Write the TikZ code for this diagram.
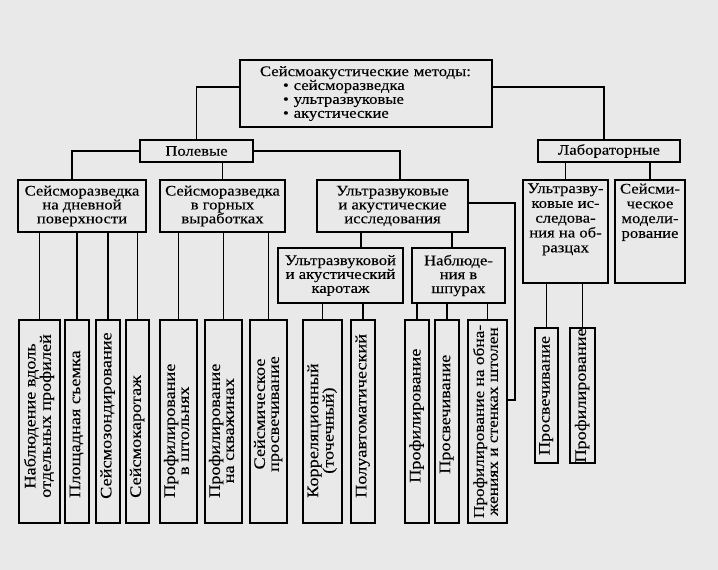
\documentclass[tikz,border=0pt]{standalone}
\usepackage{fontspec}
\usepackage{graphicx}
\setmainfont{Liberation Serif}[FakeStretch=1.14,FakeBold=0.2]
\definecolor{paper}{gray}{0.915}
\newcommand\hfnt{\fontsize{14.6}{13.9}\selectfont}
\newcommand\labfnt{\fontsize{14.6}{14.8}\selectfont}
\newcommand\vfnt{\fontsize{16}{14}\selectfont}
\newcommand\vfntsmall{\fontsize{15.2}{13.8}\selectfont}
\newcommand\vt[1]{\rotatebox{90}{\vfnt\begin{tabular}{@{}c@{}}#1\end{tabular}}}
\newcommand\vts[1]{\rotatebox{90}{\vfntsmall\begin{tabular}{@{}c@{}}#1\end{tabular}}}
\begin{document}
\begin{tikzpicture}[x=1pt,y=-1pt,
  box/.style={draw, line width=1.4pt, fill=paper, inner sep=0pt, align=center, font=\hfnt},
  leaf/.style={draw, line width=1.4pt, fill=paper, inner sep=0pt, minimum height=203pt},
  lableaf/.style={draw, line width=1.4pt, fill=paper, inner sep=0pt, minimum height=135pt},
  txt/.style={inner sep=0pt, align=center, font=\labfnt},
  vtxt/.style={inner sep=0pt},
  ln/.style={line width=1.4pt}]
\fill[paper] (0,0) rectangle (718,570);
\useasboundingbox (0,0) rectangle (718,570);

% top
\node[box, minimum width=252pt, minimum height=67pt, text width=212pt, align=left] (main) at (366,93.5)
  {Сейсмоакустические методы:\\\hspace*{23pt}• сейсморазведка\\\hspace*{23pt}• ультразвуковые\\\hspace*{23pt}• акустические};

\node[box, minimum width=113pt, minimum height=22pt] (pol) at (196.5,151) {Полевые};
\node[box, minimum width=142pt, minimum height=22pt] (lab) at (609,151) {Лабораторные};

\node[box, minimum width=128pt, minimum height=52pt] (c1) at (82,206) {Сейсморазведка\\на дневной\\поверхности};
\node[box, minimum width=125pt, minimum height=52pt] (c2) at (222.5,206) {Сейсморазведка\\в горных\\выработках};
\node[box, minimum width=151pt, minimum height=52pt] (c3) at (392.5,206) {Ультразвуковые\\и акустические\\исследования};

\node[box, minimum width=85pt, minimum height=103pt] (lab1) at (565.5,231.5) {};
\node[txt, anchor=north] (lab1t) at ([yshift=-4pt]lab1.north) {Ультразву-\\ковые ис-\\следова-\\ния на об-\\разцах};
\node[box, minimum width=70pt, minimum height=103pt] (lab2) at (650,231.5) {};
\node[txt, anchor=north] (lab2t) at ([yshift=-4pt]lab2.north) {Сейсми-\\ческое\\модели-\\рование};

\node[box, minimum width=125pt, minimum height=55pt] (kar) at (340.5,275.5) {Ультразвуковой\\и акустический\\каротаж};
\node[box, minimum width=93pt, minimum height=55pt] (nab) at (458.5,275.5) {Наблюде-\\ния в\\шпурах};

% leaves (boxes)
\node[leaf, minimum width=41pt] (L1) at (39.5,421.5) {};
\node[leaf, minimum width=24pt] (L2) at (77,421.5) {};
\node[leaf, minimum width=24pt] (L3) at (108,421.5) {};
\node[leaf, minimum width=23pt] (L4) at (137.5,421.5) {};
\node[leaf, minimum width=37pt] (L5) at (178.5,421.5) {};
\node[leaf, minimum width=37pt] (L6) at (223.5,421.5) {};
\node[leaf, minimum width=37pt] (L7) at (268.5,421.5) {};
\node[leaf, minimum width=39pt] (L8) at (322.5,421.5) {};
\node[leaf, minimum width=24pt] (L9) at (363,421.5) {};
\node[leaf, minimum width=24pt] (L10) at (417,421.5) {};
\node[leaf, minimum width=24pt] (L11) at (447,421.5) {};
\node[leaf, minimum width=39pt] (L12) at (487.5,421.5) {};
\node[lableaf, minimum width=23pt] (L13) at (546.5,395.5) {};
\node[lableaf, minimum width=25pt] (L14) at (582.5,395.5) {};

% leaves (texts)
\node[vtxt, anchor=south] (t1) at (L1.center |- 0,498) {\vt{Наблюдение вдоль\\отдельных профилей}};
\node[vtxt, anchor=south] (t2) at (L2.center |- 0,498) {\vt{Площадная съемка}};
\node[vtxt, anchor=south] (t3) at (L3.center |- 0,499) {\vt{Сейсмозондирование}};
\node[vtxt, anchor=south] (t4) at (L4.center |- 0,498) {\vt{Сейсмокаротаж}};
\node[vtxt, anchor=south] (t5) at (L5.center |- 0,498) {\vt{Профилирование\\в штольнях}};
\node[vtxt, anchor=south] (t6) at (L6.center |- 0,498) {\vt{Профилирование\\на скважинах}};
\node[vtxt] (t7) at (268.5,414) {\vt{Сейсмическое\\просвечивание}};
\node[vtxt, anchor=south] (t8) at (L8.center |- 0,498) {\vt{Корреляционный\\(точечный)}};
\node[vtxt, anchor=south] (t9) at (L9.center |- 0,498) {\vt{Полуавтоматический}};
\node[vtxt, anchor=south] (t10) at (L10.center |- 0,483) {\vt{Профилирование}};
\node[vtxt, anchor=south] (t11) at (L11.center |- 0,474) {\vt{Просвечивание}};
\node[vtxt] (t12) at (L12.center) {\vts{Профилирование на обна-\\жениях и стенках штолен}};
\node[vtxt] (t13) at (L13.center) {\vt{Просвечивание}};
\node[vtxt] (t14) at (L14.center) {\vt{Профилирование}};

% connectors
\draw[ln] ([yshift=6.5pt]main.west) -| (pol.north);
\draw[ln] ([yshift=6.5pt]main.east) -| ([xshift=-5pt]lab.north);
\draw[ln] (pol.west) -| ([xshift=-10pt]c1.north);
\draw[ln] (pol.east) -| ([xshift=7.5pt]c3.north);
\draw[ln] (c2.north) -- (c2.north |- pol.south);
\draw[ln] (lab1.north) -- (lab1.north |- lab.south);
\draw[ln] (lab2.north) -- (lab2.north |- lab.south);
\draw[ln] ([xshift=20.5pt]kar.north) -- ([xshift=20.5pt]kar.north |- c3.south);
\draw[ln] ([xshift=-6.5pt]nab.north) -- ([xshift=-6.5pt]nab.north |- c3.south);
\foreach \l/\p in {L1/c1,L2/c1,L3/c1,L4/c1,L5/c2,L6/c2,L7/c2,L8/kar,L9/kar,L10/nab,L11/nab,L12/nab,L13/lab1,L14/lab1}
  \draw[ln] (\l.north) -- (\l.north |- \p.south);
\coordinate (rc) at (515,400);
\draw[ln] ([yshift=3pt]c3.east) -| (rc) -- (rc -| L12.east);
\end{tikzpicture}
\end{document}
